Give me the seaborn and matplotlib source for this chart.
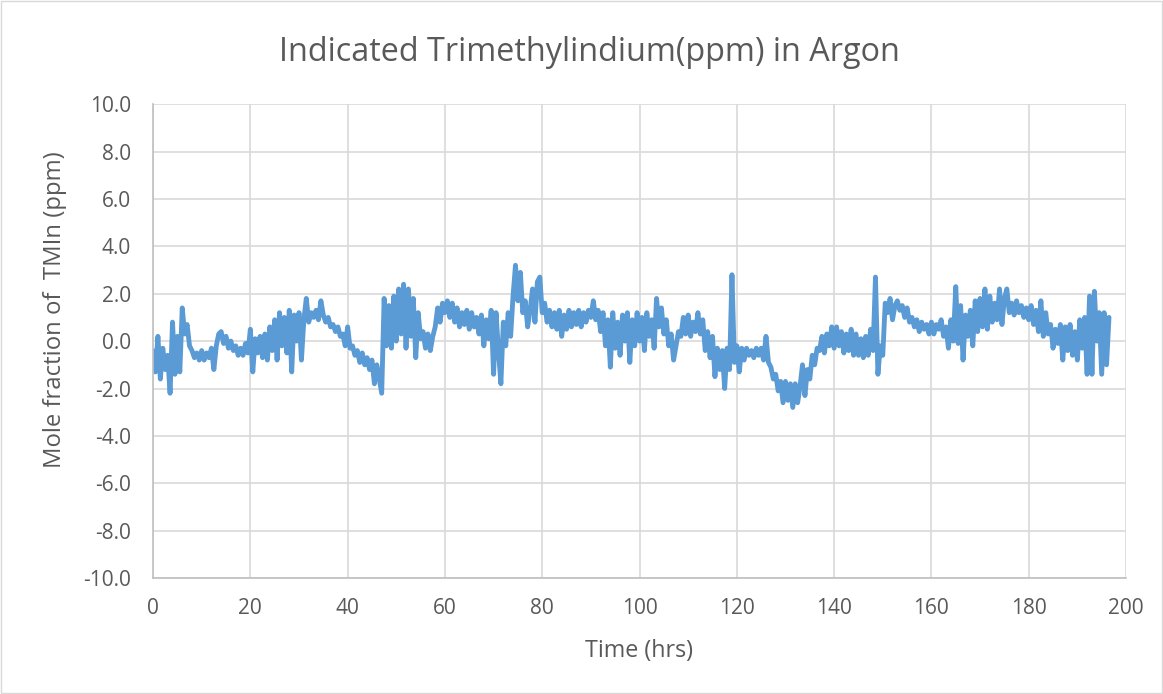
import pandas as pd
import matplotlib
matplotlib.use("Agg")
import matplotlib.pyplot as plt
import seaborn as sns

# readings taken off the chart, one every half hour
hours = [
    0, 0.5, 1, 1.5, 2, 2.5, 3, 3.5, 4, 4.5, 5, 5.5, 6, 6.5, 7, 7.5, 8, 8.5, 9, 9.5,
    10, 10.5, 11, 11.5, 12, 12.5, 13, 13.5, 14, 14.5, 15, 15.5, 16, 16.5, 17, 17.5, 18, 18.5, 19, 19.5,
    20, 20.5, 21, 21.5, 22, 22.5, 23, 23.5, 24, 24.5, 25, 25.5, 26, 26.5, 27, 27.5, 28, 28.5, 29, 29.5,
    30, 30.5, 31, 31.5, 32, 32.5, 33, 33.5, 34, 34.5, 35, 35.5, 36, 36.5, 37, 37.5, 38, 38.5, 39, 39.5,
    40, 40.5, 41, 41.5, 42, 42.5, 43, 43.5, 44, 44.5, 45, 45.5, 46, 46.5, 47, 47.5, 48, 48.5, 49, 49.5,
    50, 50.5, 51, 51.5, 52, 52.5, 53, 53.5, 54, 54.5, 55, 55.5, 56, 56.5, 57, 57.5, 58, 58.5, 59, 59.5,
    60, 60.5, 61, 61.5, 62, 62.5, 63, 63.5, 64, 64.5, 65, 65.5, 66, 66.5, 67, 67.5, 68, 68.5, 69, 69.5,
    70, 70.5, 71, 71.5, 72, 72.5, 73, 73.5, 74, 74.5, 75, 75.5, 76, 76.5, 77, 77.5, 78, 78.5, 79, 79.5,
    80, 80.5, 81, 81.5, 82, 82.5, 83, 83.5, 84, 84.5, 85, 85.5, 86, 86.5, 87, 87.5, 88, 88.5, 89, 89.5,
    90, 90.5, 91, 91.5, 92, 92.5, 93, 93.5, 94, 94.5, 95, 95.5, 96, 96.5, 97, 97.5, 98, 98.5, 99, 99.5,
    100, 100.5, 101, 101.5, 102, 102.5, 103, 103.5, 104, 104.5, 105, 105.5, 106, 106.5, 107, 107.5, 108, 108.5, 109, 109.5,
    110, 110.5, 111, 111.5, 112, 112.5, 113, 113.5, 114, 114.5, 115, 115.5, 116, 116.5, 117, 117.5, 118, 118.5, 119, 119.5,
    120, 120.5, 121, 121.5, 122, 122.5, 123, 123.5, 124, 124.5, 125, 125.5, 126, 126.5, 127, 127.5, 128, 128.5, 129, 129.5,
    130, 130.5, 131, 131.5, 132, 132.5, 133, 133.5, 134, 134.5, 135, 135.5, 136, 136.5, 137, 137.5, 138, 138.5, 139, 139.5,
    140, 140.5, 141, 141.5, 142, 142.5, 143, 143.5, 144, 144.5, 145, 145.5, 146, 146.5, 147, 147.5, 148, 148.5, 149, 149.5,
    150, 150.5, 151, 151.5, 152, 152.5, 153, 153.5, 154, 154.5, 155, 155.5, 156, 156.5, 157, 157.5, 158, 158.5, 159, 159.5,
    160, 160.5, 161, 161.5, 162, 162.5, 163, 163.5, 164, 164.5, 165, 165.5, 166, 166.5, 167, 167.5, 168, 168.5, 169, 169.5,
    170, 170.5, 171, 171.5, 172, 172.5, 173, 173.5, 174, 174.5, 175, 175.5, 176, 176.5, 177, 177.5, 178, 178.5, 179, 179.5,
    180, 180.5, 181, 181.5, 182, 182.5, 183, 183.5, 184, 184.5, 185, 185.5, 186, 186.5, 187, 187.5, 188, 188.5, 189, 189.5,
    190, 190.5, 191, 191.5, 192, 192.5, 193, 193.5, 194, 194.5, 195, 195.5, 196, 196.5,
]

tmin_ppm = [
    -0.4, -1.3, 0.2, -1.6, -0.3, -1.2, -0.6, -2.2, 0.8, -1.4, 0.2, -1.3, 1.4, 0.3, 0.7, -0.2, -0.4, -0.7, -0.5, -0.8,
    -0.4, -0.8, -0.5, -0.7, -0.3, -1.2, -0.2, 0.3, 0.4, -0.1, 0.2, -0.3, 0.0, -0.4, -0.2, -0.6, -0.3, -0.6, -0.1, -0.5,
    0.5, -1.3, 0.1, -0.5, 0.2, -0.7, 0.3, -0.8, 0.6, -0.4, 0.9, -0.8, 1.2, -0.2, 1.0, -0.5, 1.3, -1.3, 1.1, 0.0,
    1.2, -0.8, 0.9, 1.8, 0.8, 1.2, 1.0, 1.3, 0.9, 1.7, 1.1, 0.8, 1.0, 0.6, 0.7, 0.4, 0.6, 0.2, 0.3, -0.2,
    0.6, -0.3, -0.2, -0.6, -0.4, -0.9, -0.5, -1.0, -0.7, -1.2, -0.8, -1.8, -1.0, -1.6, -2.2, 1.8, -0.2, 1.5, -0.3, 1.9,
    0.0, 2.2, 0.3, 2.4, -0.3, 2.2, 0.2, 1.8, -0.7, 1.2, 0.1, 0.4, -0.3, 0.3, -0.4, 0.2, 0.6, 1.4, 0.8, 1.6,
    1.2, 1.7, 1.0, 1.6, 0.8, 1.4, 0.6, 1.2, 0.7, 1.3, 0.5, 1.2, 0.6, 1.0, 0.3, 1.1, -0.2, 0.9, 0.1, 1.3,
    -1.4, 1.2, -0.4, -1.8, 0.8, -0.2, 1.2, 0.2, 1.9, 3.2, 1.7, 2.9, 1.2, 1.7, 0.6, 1.3, 2.2, 0.8, 2.5, 2.7,
    1.2, 1.6, 0.8, 1.3, 0.6, 1.2, 0.5, 1.3, 0.2, 1.1, 0.5, 1.3, 0.6, 1.2, 0.7, 1.3, 0.6, 1.2, 0.8, 1.3,
    1.0, 1.7, 0.9, 1.3, 0.4, 1.2, -0.2, 0.9, -1.1, 1.2, -0.3, 0.8, -0.6, 1.1, 0.0, 1.2, -0.9, 0.9, -0.2, 1.2,
    0.0, 1.0, -0.4, 1.2, 0.2, 0.9, -0.3, 1.8, 0.6, 1.4, 0.3, 0.9, -0.2, 0.3, -0.8, -0.2, 0.4, 0.2, 1.0, 0.3,
    1.1, 0.2, 0.8, 0.4, 1.2, 0.3, 0.9, -0.4, 0.4, -0.7, 0.2, -1.5, -0.3, -1.2, -0.4, -2.0, -0.3, -1.2, 2.8, -0.9,
    -0.2, -1.3, -0.3, -0.8, -0.3, -0.6, -0.4, -0.7, -0.3, -0.6, -0.3, -0.8, 0.2, -0.9, -1.1, -1.6, -1.4, -2.1, -1.7, -2.6,
    -1.7, -2.5, -1.8, -2.8, -1.8, -2.6, -1.9, -1.0, -2.3, -1.2, -1.6, -0.6, -1.0, -0.3, -0.4, 0.2, -0.5, 0.3, -0.2, 0.6,
    -0.3, 0.6, -0.2, 0.4, -0.5, 0.3, -0.4, 0.5, -0.6, 0.3, -0.6, 0.1, -0.7, 0.2, -0.6, 0.5, -0.4, 2.7, -1.4, -0.2,
    -0.6, 1.6, 1.2, 1.8, 0.9, 1.5, 1.7, 1.3, 1.5, 1.0, 1.4, 0.8, 1.0, 0.6, 0.9, 0.4, 0.8, 0.5, 0.7, 0.3,
    0.8, 0.3, 0.7, 0.5, 0.9, 0.2, 0.6, -0.3, 0.9, 0.0, 2.3, -0.1, 1.5, -0.8, 1.1, 0.2, 1.3, -0.2, 1.7, 0.4,
    1.8, 0.6, 2.2, 0.5, 1.9, 0.8, 1.6, 0.9, 2.2, 0.7, 1.8, 2.2, 1.2, 1.6, 1.1, 1.7, 1.2, 1.5, 1.0, 1.4,
    0.9, 1.5, 0.7, 1.3, 0.4, 1.7, 0.2, 1.2, 0.3, 0.7, -0.3, 0.5, -0.1, 0.7, -0.8, 0.6, -0.4, 0.7, -0.6, 0.4,
    -0.8, 0.9, -0.3, 1.0, -1.4, 1.9, -1.4, 2.1, 0.0, 1.2, -1.4, 1.2, -1.0, 1.0,
]

x_ticks = [0, 20, 40, 60, 80, 100, 120, 140, 160, 180, 200]
y_ticks = [-10, -8, -6, -4, -2, 0, 2, 4, 6, 8, 10]

df = pd.DataFrame({"Time (hrs)": hours, "TMIn": tmin_ppm})

sns.set_theme(style="white")
plt.rcParams["font.family"] = ["Open Sans", "DejaVu Sans"]

text_grey = "#595959"
fig = plt.figure(figsize=(11.63, 6.94), dpi=100)
ax = fig.add_axes([0.1316, 0.167, 0.8366, 0.683])

sns.lineplot(data=df, x="Time (hrs)", y="TMIn", color="#5b9bd5", linewidth=3.5, ax=ax)

ax.set_xlim(0, 200)
ax.set_ylim(-10, 10)
ax.set_xticks(x_ticks)
ax.set_yticks(y_ticks)
ax.set_yticklabels([f"{v:.1f}" for v in y_ticks])
ax.grid(True, color="#d9d9d9", linewidth=1.2)
ax.set_axisbelow(True)
for side in ["top", "right"]:
    ax.spines[side].set_visible(False)
for side in ["left", "bottom"]:
    ax.spines[side].set_color("#bfbfbf")
    ax.spines[side].set_linewidth(1.2)
ax.tick_params(axis="both", length=0, labelsize=15, colors=text_grey)
ax.tick_params(axis="x", pad=14)
ax.tick_params(axis="y", pad=16)
ax.set_xlabel("")
ax.set_ylabel("")

# axis titles and chart title placed where Excel puts them
fig.text(0.5495, 1 - 657 / 694, "Time (hrs)", fontsize=16.8, color=text_grey,
         ha="center", va="baseline")
fig.text(55 / 1163, 1 - 310 / 694, "Mole fraction of  TMIn (ppm)", fontsize=17.2,
         color=text_grey, rotation=90, ha="center", va="center")
fig.text(0.5065, 1 - 61 / 694, "Indicated Trimethylindium(ppm) in Argon", fontsize=23.3,
         color=text_grey, ha="center", va="baseline")

# light frame round the whole chart, like the Excel chart area
fig.patches.append(plt.Rectangle((0.001, 0.001), 0.998, 0.998, transform=fig.transFigure,
                                 fill=False, edgecolor="#d9d9d9", linewidth=1))

fig.savefig("out.png", dpi=100)
